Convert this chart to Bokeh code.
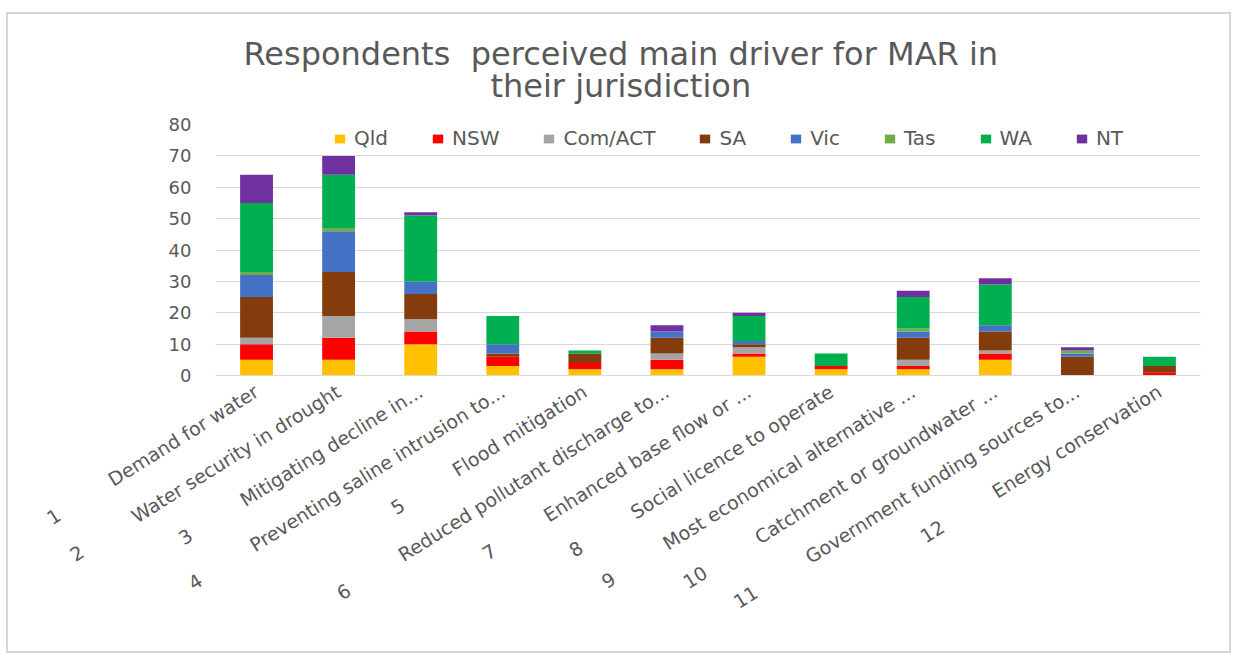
import math
from bokeh.plotting import figure
from bokeh.models import (ColumnDataSource, FactorRange, Range1d, FixedTicker, Title)
from bokeh.embed import file_html
from bokeh.resources import INLINE

# ---------------- data ----------------
numbers = ["1", "2", "3", "4", "5", "6", "7", "8", "9", "10", "11", "12"]
drivers = [
    "Demand for water",
    "Water security in drought",
    "Mitigating decline in...",
    "Preventing saline intrusion to...",
    "Flood mitigation",
    "Reduced pollutant discharge to...",
    "Enhanced base flow or ...",
    "Social licence to operate",
    "Most economical alternative ...",
    "Catchment or groundwater ...",
    "Government funding sources to...",
    "Energy conservation",
]
states = ["Qld", "NSW", "Com/ACT", "SA", "Vic", "Tas", "WA", "NT"]
qld    = [5, 5, 10, 3, 2, 2, 6, 2, 2, 5, 0, 0]
nsw    = [5, 7, 4, 3, 2, 3, 1, 1, 1, 2, 0, 1]
comact = [2, 7, 4, 0, 0, 2, 2, 0, 2, 1, 0, 0]
sa     = [13, 14, 8, 1, 3, 5, 1, 0, 7, 6, 6, 2]
vic    = [7, 13, 4, 3, 0, 2, 1, 0, 2, 2, 1, 0]
tas    = [1, 1, 0, 0, 0, 0, 0, 0, 1, 0, 1, 0]
wa     = [22, 17, 21, 9, 1, 0, 8, 4, 10, 13, 0, 3]
nt     = [9, 6, 1, 0, 0, 2, 1, 0, 2, 2, 1, 0]
y_ticks = [0, 10, 20, 30, 40, 50, 60, 70, 80]
title_lines = ["Respondents\u00a0 perceived main driver for MAR in",
               "their jurisdiction"]

colors = ["#FFC000", "#FF0000", "#A5A5A5", "#843C0C",
          "#4472C4", "#70AD47", "#00B050", "#7030A0"]

NB = "\u00a0"
factors = [n + NB * 10 + d for n, d in zip(numbers, drivers)]
keys = ["qld", "nsw", "comact", "sa", "vic", "tas", "wa", "nt"]
src = ColumnDataSource(dict(x=factors, qld=qld, nsw=nsw, comact=comact, sa=sa,
                            vic=vic, tas=tas, wa=wa, nt=nt))

FONT = "DejaVu Sans"
GREY = "#595959"

p = figure(width=1225, height=641, x_range=FactorRange(*factors),
           y_range=Range1d(0, 80), output_backend="svg", toolbar_location=None,
           min_border_left=207, min_border_right=33, min_border_top=110,
           min_border_bottom=280, margin=(12, 0, 0, 6),
           styles={"border": "2px solid #D6D6D6"})
p.outline_line_color = None
p.background_fill_color = "white"
p.border_fill_color = "white"

p.vbar_stack(keys, x="x", width=0.4, color=colors, source=src,
             legend_label=states, line_width=0)

p.xgrid.grid_line_color = None
p.ygrid.grid_line_color = "#D9D9D9"
p.ygrid.grid_line_width = 1
p.yaxis.ticker = FixedTicker(ticks=y_ticks)
p.yaxis.axis_line_color = None
p.yaxis.major_tick_line_color = None
p.yaxis.minor_tick_line_color = None
p.yaxis.major_label_text_color = GREY
p.yaxis.major_label_text_font = FONT
p.yaxis.major_label_text_font_size = "18px"
p.yaxis.major_label_standoff = 18

p.xaxis.axis_line_color = "#D9D9D9"
p.xaxis.major_tick_line_color = None
p.xaxis.minor_tick_line_color = None
p.xaxis.major_label_orientation = math.radians(32)
p.xaxis.major_label_text_color = GREY
p.xaxis.major_label_text_font = FONT
p.xaxis.major_label_text_font_size = "19px"
p.xaxis.major_label_standoff = 8

lg = p.legend[0]
lg.orientation = "horizontal"
lg.location = (118, 225)
lg.background_fill_alpha = 0
lg.border_line_alpha = 0
lg.label_text_font = FONT
lg.label_text_font_size = "20px"
lg.label_text_color = GREY
lg.glyph_width = 13
lg.glyph_height = 11
lg.label_standoff = 8
lg.spacing = 43
lg.margin = 0
lg.padding = 0

p.add_layout(Title(text="\n".join(title_lines), align="left", offset=28,
                   standoff=38, text_font=FONT, text_font_size="32px",
                   text_color=GREY, text_font_style="normal",
                   text_align="center", text_line_height=0.85), "above")

open("out.html", "w").write(file_html(p, INLINE))
